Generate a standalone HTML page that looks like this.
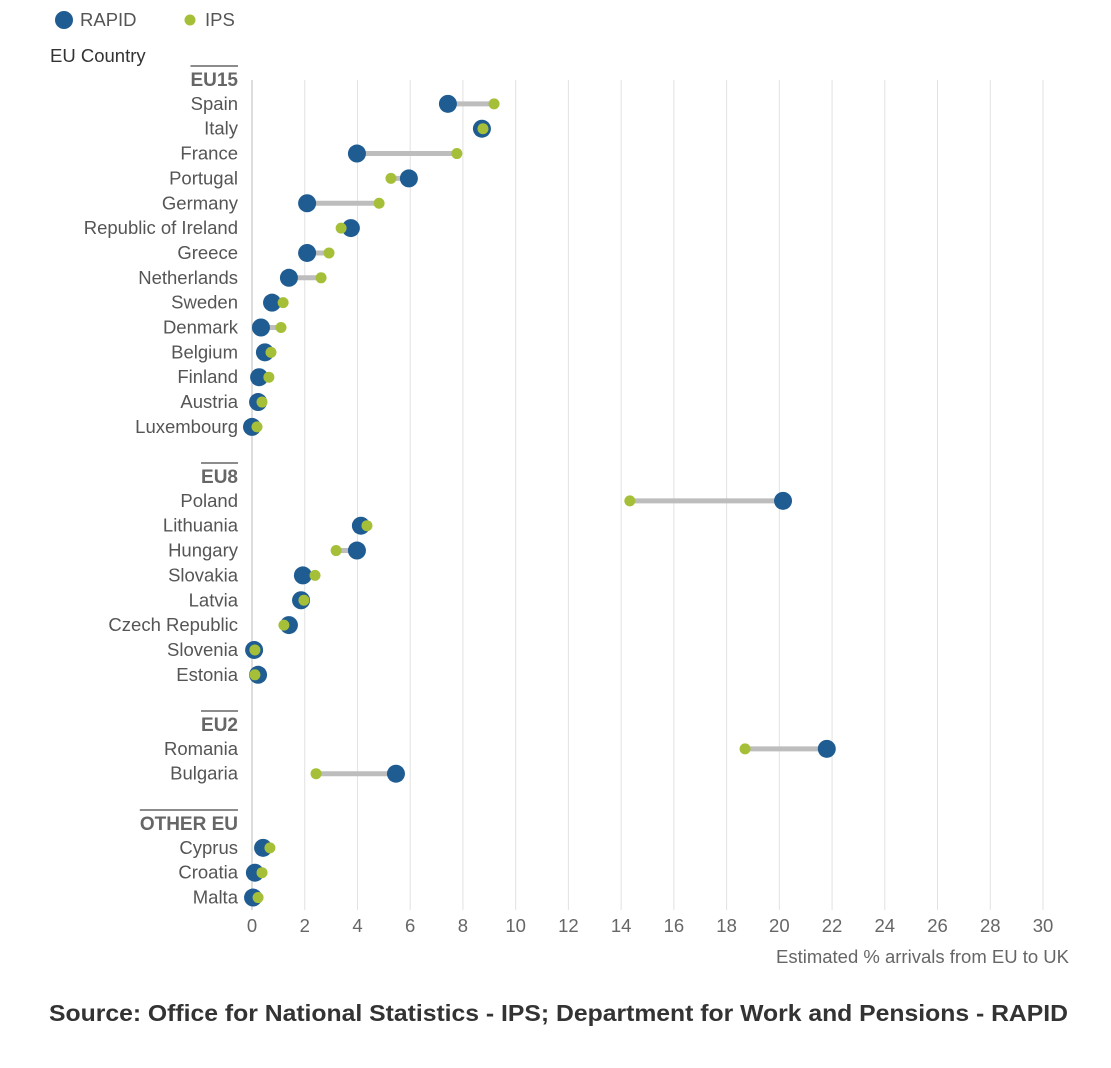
<!DOCTYPE html>
<html><head><meta charset="utf-8"><style>
body{margin:0;background:#fff;font-family:"Liberation Sans",sans-serif;}
svg text{font-family:"Liberation Sans",sans-serif;}
</style></head><body>
<svg id="c" width="1111" height="1063"></svg>
<script>
const groups=["EU15","EU8","EU2","OTHER EU"];
const groupY=[79,476,724,823];
const countries=["Spain","Italy","France","Portugal","Germany","Republic of Ireland","Greece","Netherlands","Sweden","Denmark","Belgium","Finland","Austria","Luxembourg","Poland","Lithuania","Hungary","Slovakia","Latvia","Czech Republic","Slovenia","Estonia","Romania","Bulgaria","Cyprus","Croatia","Malta"];
const countryGroup=[0,0,0,0,0,0,0,0,0,0,0,0,0,0,1,1,1,1,1,1,1,1,2,2,3,3,3];
const rapid=[7.43,8.72,3.98,5.95,2.09,3.75,2.09,1.40,0.76,0.34,0.49,0.27,0.23,0.0,20.14,4.13,3.98,1.93,1.86,1.40,0.08,0.23,21.8,5.46,0.42,0.11,0.04];
const ips=[9.18,8.76,7.77,5.27,4.82,3.38,2.92,2.62,1.18,1.10,0.72,0.64,0.38,0.19,14.33,4.36,3.19,2.39,1.97,1.21,0.11,0.11,18.7,2.43,0.68,0.38,0.23];
const ticks=[0,2,4,6,8,10,12,14,16,18,20,22,24,26,28,30];
const NS="http://www.w3.org/2000/svg";
const svg=document.getElementById('c');
const x=v=>252+v*(1043-252)/30;
function el(t,a,txt){const e=document.createElementNS(NS,t);for(const k in a)e.setAttribute(k,a[k]);if(txt!=null)e.textContent=txt;svg.appendChild(e);return e;}
const rowY=[];let gi=-1,k=0;
countries.forEach((c,i)=>{if(countryGroup[i]!==gi){gi=countryGroup[i];k=0;}k++;rowY.push(groupY[gi]+k*24.85);});
ticks.forEach(t=>{
 let g=el('line',{x1:x(t),x2:x(t),y1:80,y2:910,stroke:t===0?'#bbb':'#e2e2e2','stroke-width':1});
 
 let l=el('text',{x:x(t),y:932,'text-anchor':'middle','font-size':18.5,fill:'#666'},t);
 
});
groups.forEach((g,i)=>{
 let t=el('text',{x:238,y:groupY[i]+7,'text-anchor':'end','font-size':19,'font-weight':'bold',fill:'#666'},g);
 
 const w=t.getComputedTextLength();
 let l=el('line',{x1:238-w,x2:238,y1:groupY[i]-13,y2:groupY[i]-13,stroke:'#666','stroke-width':1.5});
 
});
countries.forEach((c,i)=>{
 const y=rowY[i];
 let t=el('text',{x:238,y:y+6,'text-anchor':'end','font-size':18.5,fill:'#555'},c);
 
 let l=el('line',{x1:x(rapid[i]),x2:x(ips[i]),y1:y,y2:y,stroke:'#bdbdbd','stroke-width':5});
 
 let r=el('circle',{cx:x(rapid[i]),cy:y,r:9,fill:'#1f5c92'});
 
 let p=el('circle',{cx:x(ips[i]),cy:y,r:5.5,fill:'#a5c038'});
 
});
</script>
<svg style="position:absolute;left:0;top:0" width="1111" height="1063">
<g><circle cx="64" cy="20" r="9" fill="#1f5c92"/><text x="80" y="26" font-size="18.5" fill="#555">RAPID</text></g>
<g><circle cx="190" cy="20" r="5.5" fill="#a5c038"/><text x="205" y="26" font-size="18.5" fill="#555">IPS</text></g>
<text x="50" y="62" font-size="18.5" fill="#333">EU Country</text>
<text x="1069" y="963" text-anchor="end" font-size="18.5" fill="#666">Estimated % arrivals from EU to UK</text>
<text x="49" y="1021" font-size="23" font-weight="bold" fill="#333" textLength="1019" lengthAdjust="spacingAndGlyphs">Source: Office for National Statistics - IPS; Department for Work and Pensions - RAPID</text>
</svg>
</body></html>
